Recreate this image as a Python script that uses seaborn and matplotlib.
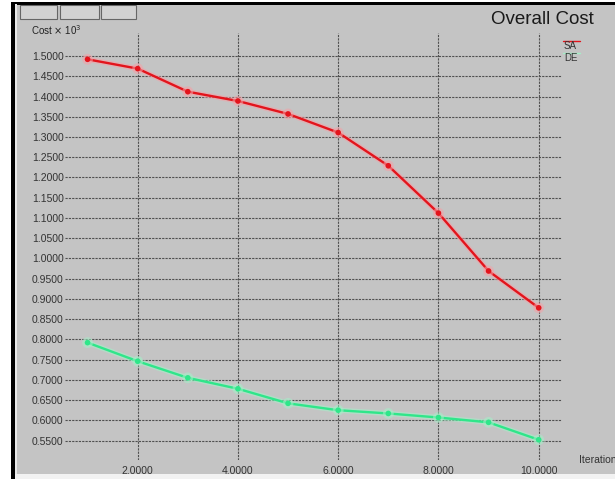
# ============================================================
# Overall Cost vs Iteration (SA / DE) - recreated with seaborn
# ============================================================
import pandas as pd
import numpy as np
import matplotlib.pyplot as plt
import matplotlib.patches as patches
import matplotlib.patheffects as pe
from matplotlib.lines import Line2D
from matplotlib.ticker import FormatStrFormatter
import seaborn as sns

# ------------------------------------------------------------
# DATA (Cost x 10^3)
# ------------------------------------------------------------
iterations = [1, 2, 3, 4, 5, 6, 7, 8, 9, 10]
cost_sa = [1.492, 1.469, 1.412, 1.389, 1.357, 1.311, 1.229, 1.112, 0.969, 0.878]
cost_de = [0.792, 0.746, 0.705, 0.678, 0.642, 0.625, 0.617, 0.607, 0.595, 0.552]
methods = ['SA', 'DE']
method_colors = {'SA': '#e3141c', 'DE': '#2fe68a'}
glow_colors = {'SA': '#f5a0a6', 'DE': '#a4f0c8'}
x_ticks = [2, 4, 6, 8, 10]
y_ticks = [0.55, 0.60, 0.65, 0.70, 0.75, 0.80, 0.85, 0.90, 0.95, 1.00,
           1.05, 1.10, 1.15, 1.20, 1.25, 1.30, 1.35, 1.40, 1.45, 1.50]

df = pd.DataFrame({
    'Iteration': iterations * 2,
    'Cost': cost_sa + cost_de,
    'Method': ['SA'] * len(cost_sa) + ['DE'] * len(cost_de),
})

# ------------------------------------------------------------
# FIGURE / WINDOW FRAME
# ------------------------------------------------------------
sns.set_theme(style='white')
plt.rcParams['font.family'] = ['Liberation Sans', 'DejaVu Sans']

W, H = 615, 479
fig = plt.figure(figsize=(W / 100, H / 100), dpi=100)
fig.patch.set_facecolor('#c4c4c4')


def px_rect(x, y, w, h, **kw):
    # rectangle given in pixels from the top-left corner
    return patches.Rectangle((x / W, 1 - (y + h) / H), w / W, h / H,
                             transform=fig.transFigure, **kw)


# white margins, black window border, light bottom strip
fig.patches.append(px_rect(0, 0, W, 2, facecolor='white', edgecolor='none'))
fig.patches.append(px_rect(0, 0, 12, H, facecolor='white', edgecolor='none'))
fig.patches.append(px_rect(11, 2, W - 11, 2.5, facecolor='black', edgecolor='none'))
fig.patches.append(px_rect(11, 2, 4, H - 2, facecolor='black', edgecolor='none'))
fig.patches.append(px_rect(15, 4.5, 1.5, H, facecolor='#e8e8e8', edgecolor='none'))
fig.patches.append(px_rect(15, 474, W, 5, facecolor='#f2f2f2', edgecolor='none'))

# toolbar buttons (cut off at the top)
for bx, bw in [(20, 37), (60, 39), (101, 35)]:
    fig.patches.append(px_rect(bx, 4.5, bw, 14, facecolor='#d2d2d2',
                               edgecolor='#666666', linewidth=0.8))

# ------------------------------------------------------------
# PLOT AREA
# ------------------------------------------------------------
left, right, top, bottom = 65, 562, 33, 460
ax = fig.add_axes([left / W, 1 - bottom / H, (right - left) / W, (bottom - top) / H])
ax.set_facecolor('none')

for m in methods:
    sub = df[df['Method'] == m]
    sns.lineplot(data=sub, x='Iteration', y='Cost', color=method_colors[m],
                 marker='o', markersize=4, markeredgewidth=0, linewidth=1.7,
                 ax=ax, legend=False,
                 path_effects=[pe.Stroke(linewidth=3.8, foreground=glow_colors[m], alpha=0.55),
                               pe.Normal()])

ax.set_xlim(0.55, 10.465)
ax.set_ylim(0.502, 1.557)
ax.set_xticks(x_ticks)
ax.set_yticks(y_ticks)
ax.xaxis.set_major_formatter(FormatStrFormatter('%.4f'))
ax.yaxis.set_major_formatter(FormatStrFormatter('%.4f'))
ax.tick_params(length=0, labelsize=7.5, colors='#333333')
ax.tick_params(axis='x', pad=4)
ax.tick_params(axis='y', pad=1)
ax.grid(True, linestyle=(0, (2, 1)), color='#505050', linewidth=0.8)
ax.set_xlabel('')
ax.set_ylabel('')
for s in ax.spines.values():
    s.set_visible(False)

# ------------------------------------------------------------
# TEXTS / LEGEND
# ------------------------------------------------------------
fig.text(594 / W, 1 - 20 / H, 'Overall Cost', ha='right', va='center',
         fontsize=13.5, color='#1a1a1a')
fig.text(31 / W, 1 - 30 / H, r'Cost $\times$ 10$^3$', ha='left', va='center',
         fontsize=7, color='#222222')
fig.text(579 / W, 1 - 460 / H, 'Iteration', ha='left', va='center',
         fontsize=7.5, color='#333333')

fig.lines.append(Line2D([563 / W, 580 / W], [1 - 40.5 / H, 1 - 40.5 / H],
                        transform=fig.transFigure, color=method_colors['SA'], linewidth=1))
fig.lines.append(Line2D([563 / W, 580 / W], [1 - 52.5 / H, 1 - 52.5 / H],
                        transform=fig.transFigure, color=glow_colors['DE'], linewidth=1))
fig.text(564 / W, 1 - 46 / H, 'SA', ha='left', va='center', fontsize=7, color='#333333')
fig.text(564 / W, 1 - 58 / H, 'DE', ha='left', va='center', fontsize=7, color='#333333')

plt.savefig('out.png', dpi=100, facecolor=fig.get_facecolor())
